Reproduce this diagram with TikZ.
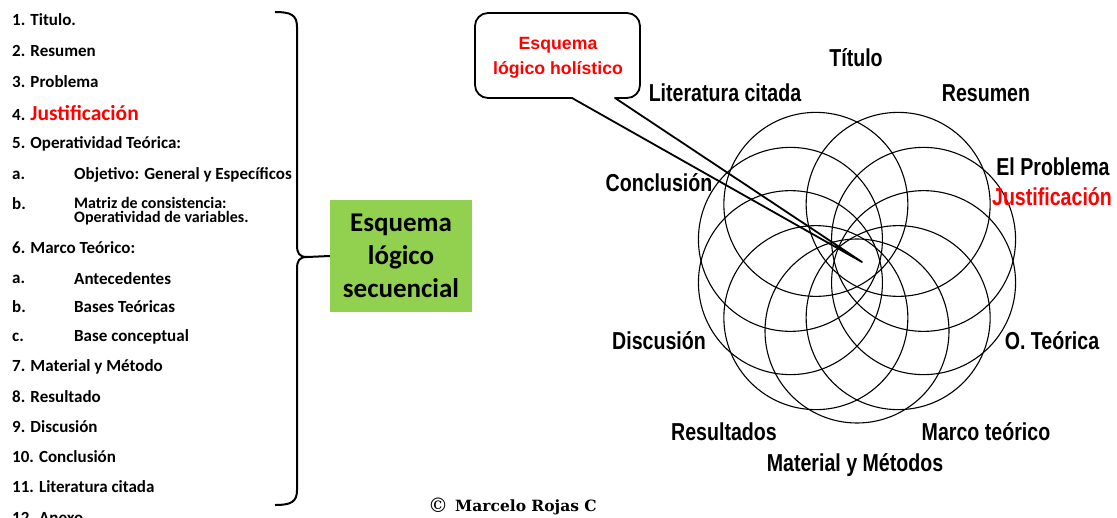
\documentclass[tikz,border=0pt]{standalone}
\usepackage{fontspec}
\setmainfont{Carlito}
\newfontfamily\arialn[FakeStretch=0.8]{Liberation Sans}
\newfontfamily\arial{Liberation Sans}
\newfontfamily\dvs{DejaVu Serif}
\usetikzlibrary{calc}
\definecolor{boxgreen}{HTML}{92D050}
\begin{document}
\begin{tikzpicture}[x=1pt,y=-1pt,
  item/.style={anchor=west, inner sep=0pt, font=\fontsize{17}{18}\selectfont\bfseries},
  lab/.style={inner sep=0pt, font=\arialn\bfseries\fontsize{24.5}{26}\selectfont},
  circ/.style={draw, line width=1.1pt},
  brace/.style={draw, line width=2pt},
  callout/.style={draw, line width=1.8pt, line join=round}]
\useasboundingbox (0,0) rectangle (1117,517);

% ---- list ----
\node[item] (i1) at (12,20) {1. Titulo.};
\node[item] (i2) at (12,51) {2. Resumen};
\node[item] (i3) at (12,82) {3. Problema};
\node[item] (i4) at (12,113) {4. {\fontsize{21.5}{22}\selectfont\color{red}Justificación}};
\node[item] (i5) at (12,144) {5. Operatividad Teórica:};
\node[item] (i5a) at (12,175) {a.};
\node[item] (i5at) at (74,175) {Objetivo: General y Específicos};
\node[item] (i5b) at (12,204) {b.};
\node[item, align=left, font=\fontsize{16}{14.5}\selectfont\bfseries] (i5bt) at (74,211) {Matriz de consistencia:\\Operatividad de variables.};
\node[item] (i6) at (12,248) {6. Marco Teórico:};
\node[item] (i6a) at (12,279) {a.};
\node[item] (i6at) at (74,279) {Antecedentes};
\node[item] (i6b) at (12,307) {b.};
\node[item] (i6bt) at (74,307) {Bases Teóricas};
\node[item] (i6c) at (12,337) {c.};
\node[item] (i6ct) at (74,337) {Base conceptual};
\node[item] (i7) at (12,367) {7. Material y Método};
\node[item] (i8) at (12,397) {8. Resultado};
\node[item] (i9) at (12,427) {9. Discusión};
\node[item] (i10) at (12,457) {10. Conclusión};
\node[item] (i11) at (12,487) {11. Literatura citada};
\node[item] (i12) at (12,518) {12. Anexo};

% ---- brace ----
\coordinate (btop) at (275,12);
\coordinate (bbot) at (275,505);
\coordinate (cusp) at (307,257);
\draw[brace] (btop) .. controls (291,12) and (297,15) .. (297,27) -- (297,245)
  .. controls (297,253) and (299,257) .. (cusp)
  .. controls (299,257) and (297,261) .. (297,269) -- (297,490)
  .. controls (297,502) and (291,505) .. (bbot);

% ---- green box ----
\node[fill=boxgreen, minimum width=142pt, minimum height=112pt, inner sep=0pt,
  align=center, font=\fontsize{27}{33}\selectfont\bfseries] (seq) at (401,256)
  {Esquema\\lógico\\secuencial};
\draw[brace] (cusp) -- (seq.west);

% ---- flower: nine circles (a ring of ten without the top one) ----
\coordinate (fc) at (857,261);
\foreach \a in {18,54,126,162,198,234,270,306,342}
  \draw[circ] ($(fc)+({70*cos(\a)},{-70*sin(\a)})$) circle[radius=92pt];

% ---- callout ----
\coordinate (tip) at (862,262);
\draw[callout] (tip) -- (572,98) {[rounded corners=13pt] -- (475,98) -- (475,13) -- (640,13) -- (640,98)} -- (615,98) -- cycle;
\node[align=center, inner sep=0pt, text=red, font=\arial\bfseries\fontsize{17.7}{25}\selectfont] (hol) at (558,58) {Esquema\\lógico holístico};

% ---- labels ----
\node[lab] (lt) at (856,58) {Título};
\node[lab] (llc) at (725,93) {Literatura citada};
\node[lab] (lr) at (986,93) {Resumen};
\node[lab] (lp) at (1053,167) {El Problema};
\node[lab, text=red] (lj) at (1052,197) {Justificación};
\node[lab] (lc) at (659,183) {Conclusión};
\node[lab] (ld) at (659,341) {Discusión};
\node[lab] (lo) at (1052,341) {O. Teórica};
\node[lab] (lres) at (724,432) {Resultados};
\node[lab] (lm) at (986,432) {Marco teórico};
\node[lab] (lmm) at (855,465) {Material y Métodos};

% ---- copyright ----
\node[anchor=west, inner sep=0pt, font=\dvs\fontsize{20}{20}\selectfont] (copy) at (428,505) {©};
\node[anchor=west, inner sep=0pt, font=\dvs\bfseries\fontsize{15.5}{17}\selectfont] (auth) at (455,507) {Marcelo Rojas C};
\end{tikzpicture}
\end{document}
